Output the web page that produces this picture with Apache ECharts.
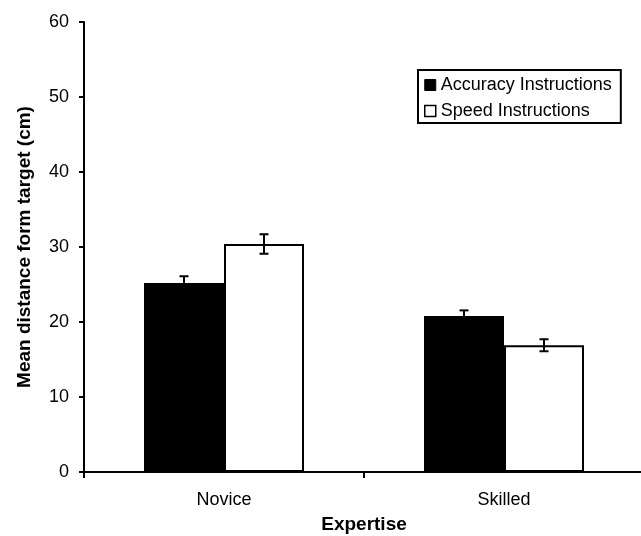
<!DOCTYPE html>
<html>
<head>
<meta charset="utf-8">
<script src="https://cdn.jsdelivr.net/npm/echarts@6/dist/echarts.min.js"></script>
<style>
  html, body { margin: 0; padding: 0; background: #fff; }
  #chart { width: 641px; height: 536px; }
</style>
</head>
<body>
<div id="chart"></div>
<script>
// Expertise groups and instruction conditions
const categories = ['Novice', 'Skilled'];
const seriesNames = ['Accuracy Instructions', 'Speed Instructions'];

// Mean distance from target (cm) and its error (±)
const accuracyMeans = [25.2, 20.8];
const accuracyErrors = [0.9, 0.75];
const speedMeans = [30.4, 16.9];
const speedErrors = [1.3, 0.8];

const yTicks = { min: 0, max: 60, interval: 10 };

const FONT = '"Liberation Sans", Arial, sans-serif';
const BAR_WIDTH = 80;

const chart = echarts.init(document.getElementById('chart'), null, { renderer: 'canvas' });

// Error bar drawn at the centre of a bar; offsetSign picks the left/right bar in a group
function errorBarSeries(name, means, errors, offsetSign) {
  const data = means.map((m, i) => [i, m - errors[i], m + errors[i]]);
  return {
    type: 'custom',
    name: name + ' error',
    z: 10,
    silent: true,
    data: data,
    renderItem: function (params, api) {
      const cat = api.value(0);
      const lo = api.coord([cat, api.value(1)]);
      const hi = api.coord([cat, api.value(2)]);
      const x = lo[0] + offsetSign * BAR_WIDTH / 2;
      const cap = 4.5;
      const style = { stroke: '#000', lineWidth: 2, fill: null };
      return {
        type: 'group',
        children: [
          { type: 'line', shape: { x1: x, y1: hi[1], x2: x, y2: lo[1] }, style: style },
          { type: 'line', shape: { x1: x - cap, y1: hi[1], x2: x + cap, y2: hi[1] }, style: style },
          { type: 'line', shape: { x1: x - cap, y1: lo[1], x2: x + cap, y2: lo[1] }, style: style }
        ]
      };
    }
  };
}

const option = {
  backgroundColor: '#fff',
  animation: false,
  textStyle: { fontFamily: FONT, color: '#000' },
  grid: { left: 84, top: 22, width: 560, height: 450, containLabel: false, outerBoundsMode: 'none' },
  legend: {
    left: 418,
    top: 70,
    orient: 'vertical',
    icon: 'rect',
    itemWidth: 11,
    itemHeight: 11,
    itemGap: 8,
    padding: [6, 9, 3, 6],
    borderColor: '#000',
    borderWidth: 2,
    backgroundColor: '#fff',
    textStyle: { fontFamily: FONT, fontSize: 18, color: '#000' },
    data: [
      { name: seriesNames[0], itemStyle: { color: '#000', borderColor: '#000', borderWidth: 1 } },
      { name: seriesNames[1], itemStyle: { color: '#fff', borderColor: '#000', borderWidth: 1.5 } }
    ]
  },
  xAxis: {
    type: 'category',
    data: categories,
    name: 'Expertise',
    nameLocation: 'middle',
    nameGap: 43,
    nameTextStyle: { fontFamily: FONT, fontSize: 19, fontWeight: 'bold', color: '#000' },
    axisLine: { lineStyle: { color: '#000', width: 2 } },
    axisTick: { show: true, length: 6, lineStyle: { color: '#000', width: 2 } },
    axisLabel: { fontFamily: FONT, fontSize: 18, color: '#000', margin: 19 },
    splitLine: { show: false }
  },
  yAxis: {
    type: 'value',
    min: yTicks.min,
    max: yTicks.max,
    interval: yTicks.interval,
    name: 'Mean distance form target (cm)',
    nameLocation: 'middle',
    nameGap: 50,
    nameTextStyle: { fontFamily: FONT, fontSize: 19, fontWeight: 'bold', color: '#000' },
    axisLine: { show: true, lineStyle: { color: '#000', width: 2 } },
    axisTick: { show: true, length: 5, lineStyle: { color: '#000', width: 2 } },
    axisLabel: { fontFamily: FONT, fontSize: 18, color: '#000', margin: 15 },
    splitLine: { show: false }
  },
  series: [
    {
      name: seriesNames[0],
      type: 'bar',
      data: accuracyMeans,
      barWidth: BAR_WIDTH,
      barGap: '0%',
      itemStyle: { color: '#000', borderColor: '#000', borderWidth: 0 }
    },
    {
      name: seriesNames[1],
      type: 'bar',
      data: speedMeans,
      barWidth: BAR_WIDTH,
      barGap: '0%',
      itemStyle: { color: '#fff', borderColor: '#000', borderWidth: 2 }
    },
    errorBarSeries(seriesNames[0], accuracyMeans, accuracyErrors, -1),
    errorBarSeries(seriesNames[1], speedMeans, speedErrors, 1)
  ]
};

chart.setOption(option);
</script>
</body>
</html>
